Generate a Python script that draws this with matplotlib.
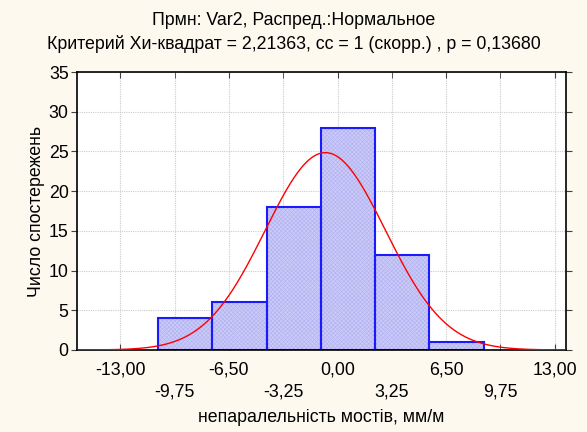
import numpy as np
import matplotlib
matplotlib.use("Agg")
import matplotlib.pyplot as plt
from matplotlib.ticker import FixedLocator, FuncFormatter

plt.rcParams['font.family'] = ['Liberation Sans', 'DejaVu Sans']
plt.rcParams['hatch.linewidth'] = 0.5

# histogram data
bin_edges = [-10.75, -7.5, -4.25, -1.0, 2.25, 5.5, 8.75]
counts = [4, 6, 18, 28, 12, 1]
# fitted normal curve
fit_mean = -0.73
fit_sigma = 3.6
n_obs = sum(counts)
bin_width = 3.25

major_x = [-13.0, -6.5, 0.0, 6.5, 13.0]
minor_x = [-9.75, -3.25, 3.25, 9.75]
y_ticks = [0, 5, 10, 15, 20, 25, 30, 35]

title = "Прмн: Var2, Распред.:Нормальное\nКритерий Хи-квадрат = 2,21363, cc = 1 (скорр.) , p = 0,13680"
xlabel = "непаралельність мостів, мм/м"
ylabel = "Число спостережень"

fs = 12.8

fig = plt.figure(figsize=(5.87, 4.32), dpi=100)
fig.patch.set_facecolor('#fdf9ef')
ax = fig.add_axes([77/587, 1 - 350/432, (566-77)/587, (350-72)/432])
ax.set_facecolor('white')

lefts = bin_edges[:-1]
widths = np.diff(bin_edges)
# fill with a fine light texture (hatch takes the edge colour)
ax.bar(lefts, counts, width=widths, align='edge', facecolor='#cbcbfa',
       edgecolor='#b4b4f0', linewidth=0, hatch='xxxxxxxx', zorder=2)
# outline on top
ax.bar(lefts, counts, width=widths, align='edge', facecolor='none',
       edgecolor='#1a1aff', linewidth=1.5, zorder=2.5)

xs = np.linspace(-15.6, 13.7, 400)
ys = n_obs * bin_width / (fit_sigma * np.sqrt(2*np.pi)) * np.exp(-0.5*((xs - fit_mean)/fit_sigma)**2)
ax.plot(xs, ys, color='red', linewidth=1.0, zorder=3)

ax.set_xlim(-15.6, 13.68)
ax.set_ylim(0, 35)
ax.xaxis.set_major_locator(FixedLocator(major_x))
ax.xaxis.set_minor_locator(FixedLocator(minor_x))
fmt = FuncFormatter(lambda v, p: ("%.2f" % v).replace('.', ','))
ax.xaxis.set_major_formatter(fmt)
ax.xaxis.set_minor_formatter(fmt)
ax.set_yticks(y_ticks)

ax.tick_params(axis='x', which='both', direction='in', top=True, length=4,
               labelsize=fs, color='#404040')
ax.tick_params(axis='x', which='major', pad=8)
ax.tick_params(axis='x', which='minor', pad=24)
ax.tick_params(axis='y', which='major', direction='out', length=4, labelsize=fs,
               pad=2, color='#404040')
ax.tick_params(axis='y', which='major', right=True)

ax.grid(True, which='both', color='#cccccc', linestyle=(0, (1, 1)), linewidth=0.8, zorder=0)
ax.set_axisbelow(True)
for s in ax.spines.values():
    s.set_linewidth(1.2)

fig.suptitle(title, fontsize=fs, y=0.972, linespacing=1.45)
ax.set_xlabel(xlabel, fontsize=fs, labelpad=6)
ax.set_ylabel(ylabel, fontsize=fs, labelpad=3)

fig.savefig("out.png", dpi=100, facecolor=fig.get_facecolor())
